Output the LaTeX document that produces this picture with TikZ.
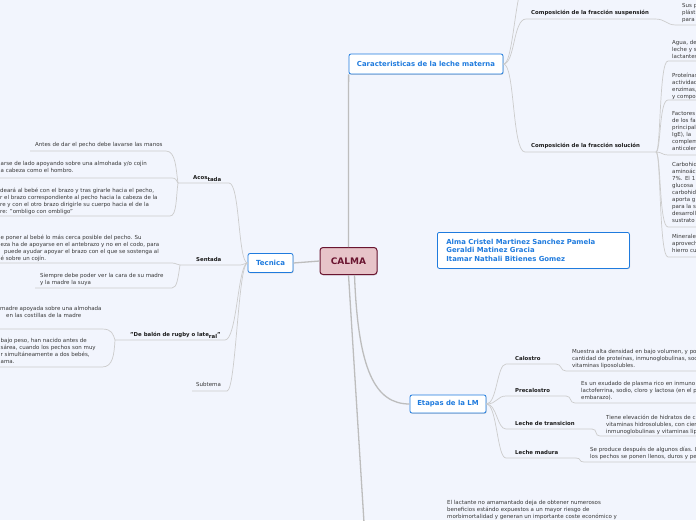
\documentclass[tikz,border=0pt]{standalone}
\usepackage{fontspec}
\setmainfont{DejaVu Sans}
\usetikzlibrary{shadows}
\definecolor{bg}{HTML}{F2F5FD}
\definecolor{ln}{HTML}{CCCCCC}
\definecolor{mln}{HTML}{BDBDBD}
\definecolor{txt}{HTML}{383838}
\definecolor{lbl}{HTML}{1C1C1C}
\definecolor{blu}{HTML}{1F7BDE}
\definecolor{mar}{HTML}{6A1530}
\definecolor{pnk}{HTML}{E7C4C9}
\begin{document}
\begin{tikzpicture}[x=1pt,y=-1pt,
  body/.style={font=\fontsize{5.5}{7}\selectfont, text=txt, align=left, inner sep=0pt, anchor=north west},
  lab/.style={font=\bfseries\fontsize{5.4}{6}\selectfont, text=lbl, inner sep=0pt, anchor=base west},
  plainlab/.style={font=\fontsize{5.5}{6}\selectfont, text=txt, inner sep=0pt, anchor=base west},
  bluebox/.style={draw=blu, line width=0.8pt, fill=white, rounded corners=2pt, text=blu, inner sep=0pt,
    font=\bfseries\fontsize{6.9}{8}\selectfont,
    drop shadow={opacity=0.25, shadow xshift=0.6pt, shadow yshift=-0.8pt, fill=black!60}},
  conn/.style={draw=ln, line width=0.7pt},
  mainconn/.style={draw=mln, line width=1.3pt},
]
\useasboundingbox (0,0) rectangle (696,520);
\fill[bg] (0,0) rectangle (696,520);
\clip (0,0) rectangle (696,520);

% ---------- main boxes ----------
\node[draw=mar, line width=1pt, fill=pnk, rounded corners=3pt, text=mar, inner sep=0pt,
  minimum width=57pt, minimum height=27pt, font=\bfseries\fontsize{9}{10}\selectfont,
  drop shadow={opacity=0.25, shadow xshift=0.6pt, shadow yshift=-0.8pt, fill=black!60}]
  (calma) at (348.5,261) {CALMA};
\node[bluebox, minimum width=45pt, minimum height=19pt, font=\bfseries\fontsize{7}{8}\selectfont] (tec) at (270.5,263) {Tecnica};
\node[bluebox, minimum width=154pt, minimum height=20pt] (car) at (426,64) {Caracteristicas de la leche materna};
\node[bluebox, minimum width=76pt, minimum height=18pt] (eta) at (448,404) {Etapas de la LM};
\node[bluebox, anchor=north west, text width=174pt, inner xsep=9pt, minimum height=36pt, align=left,
  font=\bfseries\fontsize{6.9}{8.2}\selectfont] (alma) at (437,232)
  {Alma Cristel Martinez Sanchez Pamela\\Geraldi Matinez Gracia\\Itamar Nathali Bitienes Gomez};

% ---------- main connectors ----------
\draw[mainconn] (calma.west) -- (tec.east);
\draw[mainconn] (calma.north) -- (car.south west);
\coordinate (lactK) at (364.6,532);
\coordinate (lactL) at (440,550);
\draw[mainconn] (calma.south) -- (lactK) .. controls (366,548) and (372,550) .. (lactL);
\draw[mainconn] ([xshift=6pt]calma.south) .. controls (358,370) and (375,404) .. (eta.west);

% ---------- Tecnica side ----------
\node[lab] (acos) at (193,179.6) {Acos\raisebox{-1.6pt}{tada}};
\coordinate (acosL) at (178,183); \coordinate (acosR) at (229,183);
\node[lab] (sent) at (196,261.8) {Sentada};
\coordinate (sentL) at (180,265); \coordinate (sentR) at (240,265);
\node[lab] (rug) at (130,336.8) {"De balón de rugby o late\raisebox{-1.6pt}{ral}"};
\coordinate (rugL) at (115,340); \coordinate (rugR) at (225,340);
\node[plainlab] (sub) at (196,386.8) {Subtema};
\coordinate (subL) at (192,391); \coordinate (subR) at (227,391);

\draw[conn] (tec.west) .. controls (238,263) and (240,183) .. (acosR) -- (acosL);
\draw[conn] (tec.west) .. controls (244,263) and (244,265) .. (sentR) -- (sentL);
\draw[conn] (tec.west) .. controls (238,263) and (237,340) .. (rugR) -- (rugL);
\draw[conn] (tec.west) .. controls (238,263) and (236,391) .. (subR) -- (subL);

% Acostada children
\node[body] (ac1) at (35,142.5) {Antes de dar el pecho debe lavarse las manos};
\coordinate (ac1a) at (30,151); \coordinate (ac1b) at (166,151);
\node[body] (ac2) at (0.5,161) {arse de lado apoyando sobre una almohada y/o cojín\\a cabeza como el hombro.};
\coordinate (ac2a) at (-5,178); \coordinate (ac2b) at (172,178);
\node[body] (ac3) at (0,187.5) {deará al bebé con el brazo y tras girarle hacia el pecho,\\r el brazo correspondiente al pecho hacia la cabeza de la\\re y con el otro brazo dirigirle su cuerpo hacia el de la\\re: "ombligo con ombligo"};
\coordinate (ac3a) at (-5,216); \coordinate (ac3b) at (170,216);
\draw[conn] (acosL) .. controls (176,170) and (176,151) .. (ac1b) -- (ac1a);
\draw[conn] (acosL) .. controls (176,180) and (176,178) .. (ac2b) -- (ac2a);
\draw[conn] (acosL) .. controls (176,196) and (177,216) .. (ac3b) -- (ac3a);

% Sentada children
\node[body] (se1) at (0.5,234.5) {e poner al bebé lo más cerca posible del pecho. Su\\eza ha de apoyarse en el antebrazo y no en el codo, para\\\hspace*{3.5pt}puede ayudar apoyar el brazo con el que se sostenga al\\é sobre un cojín.};
\coordinate (se1a) at (-5,263); \coordinate (se1b) at (172,263);
\node[body] (se2) at (40,273.5) {Siempre debe poder ver la cara de su madre\\y la madre la suya};
\coordinate (se2a) at (35,288); \coordinate (se2b) at (172,288);
\draw[conn] (sentL) .. controls (177,265) and (176,263) .. (se1b) -- (se1a);
\draw[conn] (sentL) .. controls (178,278) and (177,288) .. (se2b) -- (se2a);

% Rugby children
\node[body] (ru1) at (0,306.5) {madre apoyada sobre una almohada\\\hspace*{6pt}en las costillas de la madre};
\coordinate (ru1a) at (-5,329); \coordinate (ru1b) at (102,329);
\node[body] (ru2) at (0.5,338.5) {bajo peso, han nacido antes de\\sárea, cuando los pechos son muy\\r simultáneamente a dos bebés,\\ama.};
\coordinate (ru2a) at (-5,367); \coordinate (ru2b) at (102,367);
\draw[conn] (rugL) .. controls (113,334) and (112,329) .. (ru1b) -- (ru1a);
\draw[conn] (rugL) .. controls (114,355) and (113,367) .. (ru2b) -- (ru2a);

% ---------- Caracteristicas side ----------
\coordinate (carTop) at (521,-12);
\draw[conn] (car.east) .. controls (512,64) and (514,12) .. (carTop);

\node[lab] (sus) at (531,14.8) {Composición de la fracción suspensión};
\coordinate (susL) at (526,19); \coordinate (susR) at (655,19);
\draw[conn] (car.east) .. controls (515,64) and (513,19) .. (susL) -- (susR);
\node[body] (sus1) at (682,3.5) {Sus p\\plásti\\para};
\coordinate (sus1a) at (676,25); \coordinate (sus1b) at (700,25);
\draw[conn] (susR) .. controls (666,19) and (666,25) .. (sus1a) -- (sus1b);

\node[lab] (sol) at (531,147.8) {Composición de la fracción solución};
\coordinate (solL) at (525,152); \coordinate (solR) at (656,152);
\draw[conn] (car.east) .. controls (515,64) and (512,152) .. (solL) -- (solR);

\node[body] (so1) at (672,40) {Agua, de\\leche y s\\lactantes};
\coordinate (so1a) at (668,61); \coordinate (so1b) at (700,61);
\node[body] (so2) at (672,72.5) {Proteínas\\actividad\\enzimas,\\y compo};
\coordinate (so2a) at (668,100); \coordinate (so2b) at (700,100);
\node[body] (so3) at (672,111) {Factores\\de los fa\\principal\\IgE), la\\complem\\anticoler};
\coordinate (so3a) at (668,155); \coordinate (so3b) at (700,155);
\node[body] (so4) at (672,162.5) {Carbohid\\aminoáci\\7\%. El 1\\glucosa\\carbohid\\aporta g\\para la s\\desarroll\\sustrato};
\coordinate (so4a) at (668,227); \coordinate (so4b) at (700,227);
\node[body] (so5) at (672,234.5) {Minerales\\aprovech\\hierro cu};
\coordinate (so5a) at (668,257); \coordinate (so5b) at (700,257);
\draw[conn] (solR) .. controls (661,152) and (659,61) .. (so1a) -- (so1b);
\draw[conn] (solR) .. controls (661,152) and (659,100) .. (so2a) -- (so2b);
\draw[conn] (solR) .. controls (662,152) and (662,155) .. (so3a) -- (so3b);
\draw[conn] (solR) .. controls (661,152) and (659,227) .. (so4a) -- (so4b);
\draw[conn] (solR) .. controls (661,152) and (659,257) .. (so5a) -- (so5b);

% ---------- Etapas side ----------
\node[lab] (cal) at (515,360.8) {Calostro};
\coordinate (calL) at (506,364); \coordinate (calR) at (556,364);
\node[lab] (pre) at (515,392.8) {Precalostro};
\coordinate (preL) at (506,396); \coordinate (preR) at (566,396);
\node[lab] (tra) at (515,425.8) {Leche de transicion};
\coordinate (traL) at (506,429); \coordinate (traR) at (592,429);
\node[lab] (mad) at (515,454.8) {Leche madura};
\coordinate (madL) at (506,458); \coordinate (madR) at (576,458);
\draw[conn] (eta.east) .. controls (497,404) and (497,364) .. (calL) -- (calR);
\draw[conn] (eta.east) .. controls (497,404) and (497,396) .. (preL) -- (preR);
\draw[conn] (eta.east) .. controls (497,404) and (497,429) .. (traL) -- (traR);
\draw[conn] (eta.east) .. controls (497,404) and (497,458) .. (madL) -- (madR);

\node[body] (cal1) at (572,349.5) {Muestra alta densidad en bajo volumen, y po\\cantidad de proteínas, inmunoglobulinas, soc\\vitaminas liposolubles.};
\coordinate (cal1a) at (566,371); \coordinate (cal1b) at (700,371);
\draw[conn] (calR) .. controls (562,364) and (560,371) .. (cal1a) -- (cal1b);
\node[body] (pre1) at (581,381.5) {Es un exudado de plasma rico en inmuno\\lactoferrina, sodio, cloro y lactosa (en el p\\embarazo).};
\coordinate (pre1a) at (575,403); \coordinate (pre1b) at (700,403);
\draw[conn] (preR) .. controls (572,396) and (569,403) .. (pre1a) -- (pre1b);
\node[body] (tra1) at (606,414.5) {Tiene elevación de hidratos de c\\vitaminas hidrosolubles, con cier\\inmunoglobulinas y vitaminas lip};
\coordinate (tra1a) at (600,436); \coordinate (tra1b) at (700,436);
\draw[conn] (traR) .. controls (598,429) and (594,436) .. (tra1a) -- (tra1b);
\node[body] (mad1) at (590,446.5) {Se produce después de algunos días. L\\los pechos se ponen llenos, duros y pe};
\coordinate (mad1a) at (584,462); \coordinate (mad1b) at (700,462);
\draw[conn] (madR) .. controls (582,458) and (578,462) .. (mad1a) -- (mad1b);

% ---------- bottom node ----------
\node[body] (lact) at (447,500.5) {El lactante no amamantado deja de obtener numerosos\\beneficios estándo expuestos a un mayor riesgo de\\morbimortalidad y generan un importante coste económico y};
\end{tikzpicture}
\end{document}
